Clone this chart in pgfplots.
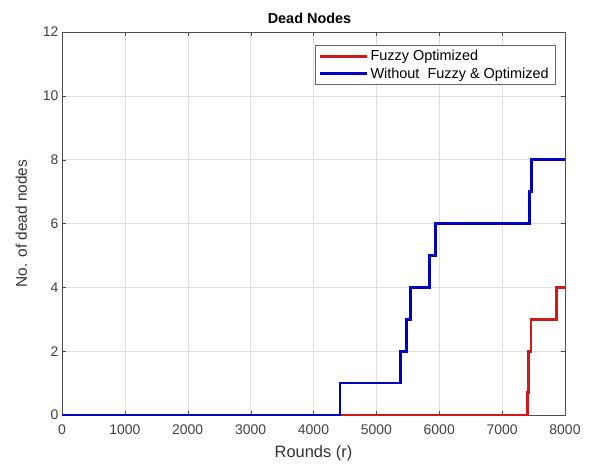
\documentclass[border=0pt]{standalone}
\usepackage{pgfplots}
\pgfplotsset{compat=1.18}
\usepackage{fontspec}
\setmainfont{Liberation Sans}
\definecolor{mred}{RGB}{210,25,25}
\definecolor{mblue}{RGB}{0,0,195}
\begin{document}
\begin{tikzpicture}[x=1bp,y=1bp]
\useasboundingbox (-62bp,-51bp) rectangle (529bp,415bp);
\begin{axis}[
  at={(0,0)}, anchor=south west,
  scale only axis, width=503bp, height=383bp,
  xmin=0, xmax=8000, ymin=0, ymax=12,
  xtick={0,1000,...,8000}, ytick={0,2,...,12},
  scaled x ticks=false,
  /pgf/number format/assume math mode=true,
  /pgf/number format/1000 sep={},
  tick label style={font=\fontsize{14}{16}\selectfont, text=black!75},
  xticklabel style={yshift=-6bp},
  grid=major, grid style={gray!25, line width=0.5pt},
  tick align=inside, major tick length=4bp,
  axis line style={black!70, line width=0.6pt},
  tick style={black!70},
  title={\bfseries Dead Nodes},
  title style={font=\fontsize{14.5}{16}\selectfont, yshift=-1bp, xshift=-4bp},
  xlabel={Rounds (r)}, ylabel={No. of dead nodes},
  label style={font=\fontsize{16.5}{18}\selectfont, text=black!80},
  xlabel style={yshift=-4bp},
  ylabel style={font=\fontsize{15.5}{17}\selectfont, yshift=9bp},
  legend style={at={(0.98,0.966)}, anchor=north east, draw=black!60, font=\fontsize{14.5}{16}\selectfont, row sep=1.5bp, inner xsep=4bp, inner ysep=3bp},
  legend cell align=left,
  legend image code/.code={\draw[#1, line width=2.8pt] (0bp,0bp) -- (47bp,0bp);},
]
\addplot[const plot, mred, line width=2.8pt] coordinates {
(0,0) (7403,0.7) (7425,2) (7460,3) (7864,4) (8000,4)
};
\addlegendentry{Fuzzy Optimized}
\addplot[const plot, mblue, line width=2.8pt] coordinates {
(0,0) (4420,1) (5385,2) (5480,3) (5543,4) (5850,5) (5946,6) (7440,7) (7467,8) (8000,8)
};
\addlegendentry{Without\ \ Fuzzy \& Optimized}
\end{axis}
\end{tikzpicture}
\end{document}
